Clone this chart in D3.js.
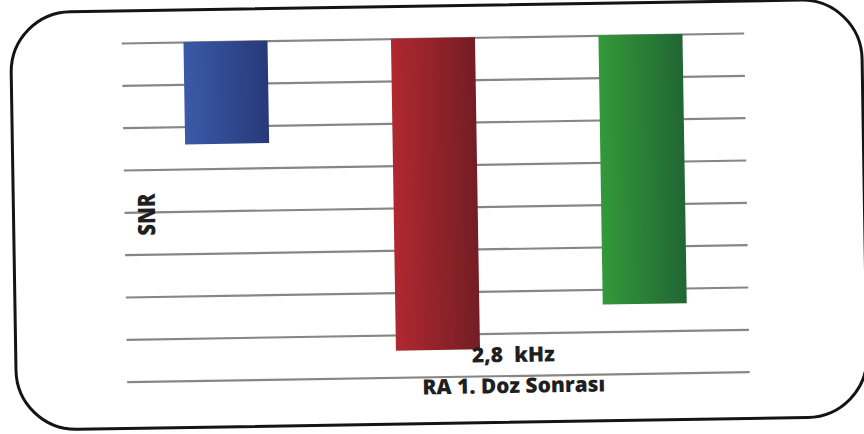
<!DOCTYPE html>
<html>
<head>
<meta charset="utf-8">
<script src="https://cdn.jsdelivr.net/npm/d3@7"></script>
<style>
  html, body { margin: 0; padding: 0; background: #fff; }
  svg { display: block; }
  .lbl { font-family: "Open Sans", "Liberation Sans", sans-serif; font-weight: 800; fill: #1f1f1f; }
</style>
</head>
<body>
<div id="chart"></div>
<script>
// SNR after the first RA dose at 2.8 kHz
const categories = ["Seri 1", "Seri 2", "Seri 3"];
const snrValues = [-12.1, -36.85, -31.8];
const gridTicks = [0, -5, -10, -15, -20, -25, -30, -35, -40];
const xTitleLines = ["2,8  kHz", "RA 1. Doz Sonrası"];
const yTitle = "SNR";
const barColors = [
  ["#3a5aa8", "#27397a"],
  ["#b02830", "#741d24"],
  ["#33993a", "#216634"]
];

const W = 864, H = 434;
const plot = { left: 124.5, right: 747, top: 38, bottom: 376.7 };

const svg = d3.select("#chart").append("svg")
  .attr("width", W).attr("height", H);

const defs = svg.append("defs");
barColors.forEach((c, i) => {
  const g = defs.append("linearGradient")
    .attr("id", "bar" + i).attr("x1", "0").attr("x2", "1").attr("y1", "0").attr("y2", "0");
  g.append("stop").attr("offset", "0%").attr("stop-color", c[0]);
  g.append("stop").attr("offset", "100%").attr("stop-color", c[1]);
});

// the whole panel sits at a slight tilt
const root = svg.append("g").attr("transform", "rotate(-0.92 434 212)");

root.append("rect")
  .attr("x", 13.5).attr("y", 6)
  .attr("width", 851).attr("height", 417.5)
  .attr("rx", 60).attr("ry", 60)
  .attr("fill", "#fff").attr("stroke", "#141414").attr("stroke-width", 3);

const x = d3.scaleBand()
  .domain(categories)
  .range([plot.left, plot.right])
  .paddingInner(0.595).paddingOuter(0.2975);

const y = d3.scaleLinear()
  .domain([-40, 0])
  .range([plot.bottom, plot.top]);

// horizontal gridlines
const grid = root.append("g")
  .attr("transform", `translate(${plot.left},0)`)
  .call(d3.axisLeft(y)
    .tickValues(gridTicks)
    .tickSize(-(plot.right - plot.left))
    .tickFormat(""));
grid.select(".domain").remove();
grid.selectAll(".tick line")
  .attr("stroke", "#8a8585").attr("stroke-width", 2.2);

// bars hang down from zero
root.append("g").selectAll("rect")
  .data(snrValues)
  .join("rect")
  .attr("x", (d, i) => x(categories[i]))
  .attr("width", x.bandwidth())
  .attr("y", d => y(Math.max(0, d)))
  .attr("height", d => Math.abs(y(d) - y(0)))
  .attr("fill", (d, i) => `url(#bar${i})`);

// axis titles
root.append("text")
  .attr("class", "lbl")
  .attr("transform", "translate(155,210) rotate(-90)")
  .attr("text-anchor", "middle")
  .attr("font-size", 24)
  .attr("textLength", 42).attr("lengthAdjust", "spacingAndGlyphs")
  .text(yTitle);

root.selectAll(".xt")
  .data(xTitleLines)
  .join("text")
  .attr("class", "lbl xt")
  .attr("x", 511)
  .attr("y", (d, i) => [363.2, 394.2][i])
  .attr("text-anchor", "middle")
  .attr("font-size", 21)
  .attr("textLength", (d, i) => [83, 183][i])
  .attr("lengthAdjust", "spacingAndGlyphs")
  .style("white-space", "pre")
  .text(d => d);
</script>
</body>
</html>
